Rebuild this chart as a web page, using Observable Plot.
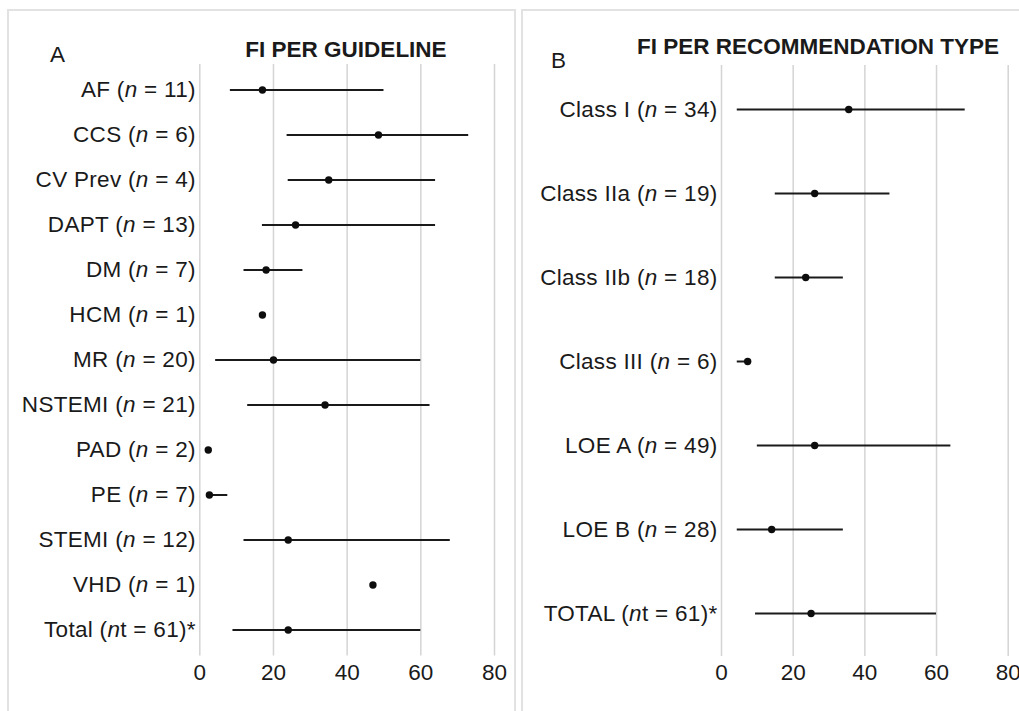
<!DOCTYPE html>
<html>
<head>
<meta charset="utf-8">
<script src="https://cdn.jsdelivr.net/npm/d3@7"></script>
<script src="https://cdn.jsdelivr.net/npm/@observablehq/plot@0.6"></script>
<style>
  html, body { margin: 0; padding: 0; background: #fff; }
  body { width: 1019px; height: 711px; position: relative; overflow: hidden; font-family: "Liberation Sans", Arial, sans-serif; }
  .panel { position: absolute; top: 9px; height: 720px; border: 2px solid #e2e2e2; box-sizing: border-box; }
  .plot { position: absolute; top: 0; }
  #overlay { position: absolute; left: 0; top: 0; pointer-events: none; }
</style>
</head>
<body>
<div class="panel" style="left:7px; width:509px;"></div>
<div class="panel" style="left:521px; width:520px;"></div>
<div id="plotA" class="plot" style="left:0px;"></div>
<div id="plotB" class="plot" style="left:522px;"></div>
<svg id="overlay" width="1019" height="711" font-family="Liberation Sans, Arial, sans-serif" fill="#1a1a1a">
  <text x="50" y="62" font-size="22.5">A</text>
  <text x="346" y="57" font-size="22.5" font-weight="bold" text-anchor="middle">FI PER GUIDELINE</text>
  <text x="551" y="68" font-size="22.5">B</text>
  <text x="818" y="54" font-size="22.5" font-weight="bold" text-anchor="middle">FI PER RECOMMENDATION TYPE</text>
</svg>
<script>
// ---- Panel A: FI per guideline ----
const guidelines   = ["AF", "CCS", "CV Prev", "DAPT", "DM", "HCM", "MR", "NSTEMI", "PAD", "PE", "STEMI", "VHD", "Total"];
const guidelineN   = ["n = 11)", "n = 6)", "n = 4)", "n = 13)", "n = 7)", "n = 1)", "n = 20)", "n = 21)", "n = 2)", "n = 7)", "n = 12)", "n = 1)", "nt = 61)*"];
const guidelineMed = [17, 48.5, 35, 26, 18, 17, 20, 34, 2.3, 2.6, 24, 47, 24];
const guidelineLow = [8.3, 23.7, 24, 17, 12, null, 4.3, 13, null, 2.6, 12, null, 9];
const guidelineHigh= [50, 73, 64, 64, 28, null, 60, 62.5, null, 7.6, 68, null, 60];

// ---- Panel B: FI per recommendation type ----
const recTypes   = ["Class I", "Class IIa", "Class IIb", "Class III", "LOE A", "LOE B", "TOTAL"];
const recN       = ["n = 34)", "n = 19)", "n = 18)", "n = 6)", "n = 49)", "n = 28)", "nt = 61)*"];
const recMed     = [35.5, 26, 23.5, 7.3, 26, 14, 25];
const recLow     = [4.4, 15, 15, 4.4, 10, 4.4, 9.5];
const recHigh    = [68, 47, 34, 7.3, 64, 34, 60];

const xTicks = [0, 20, 40, 60, 80];

function buildRows(names, ns, meds, lows, highs) {
  return names.map((name, i) => ({
    label: name + " (" + ns[i],
    med: meds[i], low: lows[i], high: highs[i]
  }));
}

function makePlot(rows, opts) {
  const labels = rows.map(d => d.label);
  const svg = Plot.plot({
    width: opts.width,
    height: 711,
    marginLeft: opts.marginLeft,
    marginRight: opts.width - opts.marginLeft - opts.frameWidth,
    marginTop: opts.top,
    marginBottom: 711 - opts.bottom,
    x: {domain: [0, 80]},
    y: {type: "band", domain: labels, padding: 0},
    style: {fontFamily: "Liberation Sans, Arial, sans-serif", fontSize: "22px", color: "#1a1a1a", background: "transparent", overflow: "visible"},
    marks: [
      Plot.gridX(xTicks, {stroke: "#d4d4d4", strokeOpacity: 1, strokeWidth: 1.5}),
      Plot.axisX(xTicks, {tickSize: 0, tickPadding: 8, label: null, fontSize: 22.5}),
      Plot.axisY({tickSize: 0, tickPadding: 4, label: null, fontSize: 22.5}),
      Plot.ruleY(rows.filter(d => d.low != null), {y: "label", x1: "low", x2: "high", stroke: "#1a1a1a", strokeWidth: 2}),
      Plot.dot(rows, {x: "med", y: "label", r: 3.7, fill: "#0d0d0d", stroke: "none"})
    ]
  });
  // italicise the "n" in each y tick label
  svg.querySelectorAll('[aria-label="y-axis tick label"] text').forEach(t => {
    const s = t.textContent;
    const k = s.indexOf("(n");
    if (k < 0) return;
    t.textContent = "";
    t.setAttribute("letter-spacing", "0.3");
    const ns = "http://www.w3.org/2000/svg";
    const a = document.createElementNS(ns, "tspan"); a.textContent = s.slice(0, k + 1);
    const b = document.createElementNS(ns, "tspan"); b.textContent = "n"; b.setAttribute("font-style", "italic");
    const c = document.createElementNS(ns, "tspan"); c.textContent = s.slice(k + 2);
    t.append(a, b, c);
  });
  return svg;
}

const rowsA = buildRows(guidelines, guidelineN, guidelineMed, guidelineLow, guidelineHigh);
const rowsB = buildRows(recTypes, recN, recMed, recLow, recHigh);

document.getElementById("plotA").append(
  makePlot(rowsA, {width: 519, marginLeft: 199.3, frameWidth: 294.7, top: 64, bottom: 655.5})
);
document.getElementById("plotB").append(
  makePlot(rowsB, {width: 497, marginLeft: 199, frameWidth: 286.7, top: 65, bottom: 656})
);
</script>
</body>
</html>
